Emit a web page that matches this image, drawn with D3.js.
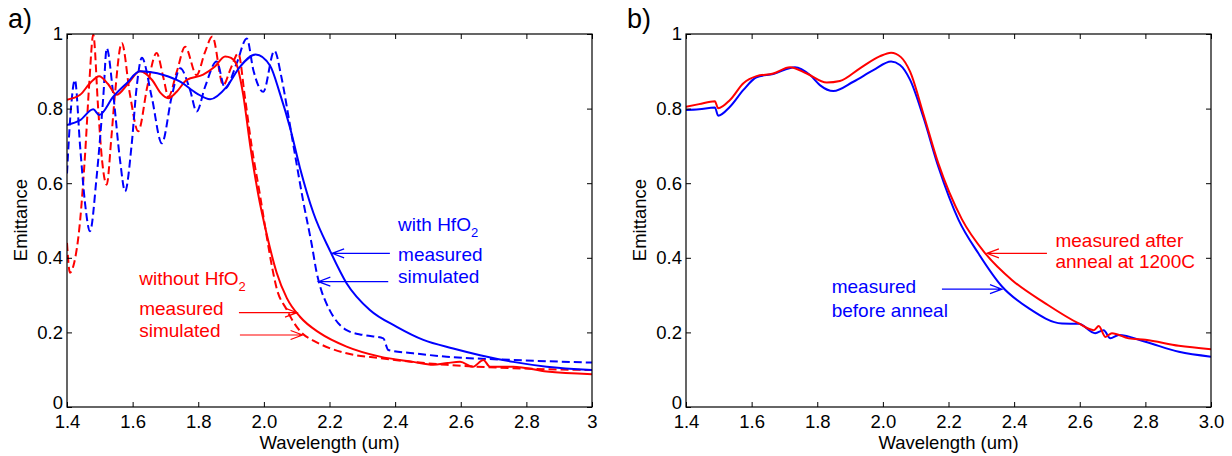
<!DOCTYPE html>
<html>
<head>
<meta charset="utf-8">
<script src="https://cdn.jsdelivr.net/npm/d3@7"></script>
<style>
	body { margin: 0; background: #fff; }
	svg text { font-family: "Liberation Sans", Arial, Helvetica, sans-serif; }
</style>
</head>
<body>
<svg id="chart" width="1232" height="456"></svg>
<script>
// wavelength (um) / emittance pairs

// panel a) without HfO2
var aRedMeasured = [[1.40,0.824],[1.44,0.837],[1.47,0.868],[1.498,0.887],[1.525,0.866],[1.551,0.837],[1.585,0.866],[1.622,0.900],[1.66,0.876],[1.685,0.842],[1.709,0.828],[1.735,0.846],[1.765,0.877],[1.815,0.891],[1.85,0.912],[1.882,0.940],[1.90,0.936],[1.917,0.918],[1.937,0.837],[1.958,0.703],[1.983,0.569],[2.009,0.462],[2.039,0.360],[2.07,0.292],[2.11,0.242],[2.171,0.198],[2.252,0.162],[2.354,0.135],[2.455,0.121],[2.516,0.113],[2.56,0.118],[2.598,0.121],[2.637,0.108],[2.669,0.126],[2.689,0.108],[2.76,0.108],[2.862,0.095],[3.0,0.088]];
var aRedSimulated = [[1.40,0.44],[1.409,0.36],[1.42,0.38],[1.44,0.50],[1.455,0.676],[1.468,0.87],[1.480,0.998],[1.495,0.80],[1.507,0.66],[1.521,0.596],[1.535,0.72],[1.546,0.837],[1.567,0.976],[1.592,0.837],[1.617,0.739],[1.645,0.86],[1.673,0.949],[1.694,0.882],[1.709,0.832],[1.735,0.90],[1.760,0.966],[1.795,0.890],[1.820,0.95],[1.843,0.993],[1.876,0.863],[1.90,0.91],[1.922,0.948],[1.942,0.832],[1.963,0.698],[1.988,0.569],[2.01,0.45],[2.025,0.375],[2.039,0.318],[2.069,0.262],[2.09,0.228],[2.12,0.195],[2.151,0.178],[2.20,0.158],[2.252,0.144],[2.354,0.131],[2.557,0.113],[2.76,0.104],[3.0,0.099]];

// panel a) with HfO2
var aBlueMeasured = [[1.40,0.756],[1.44,0.769],[1.48,0.798],[1.498,0.783],[1.541,0.832],[1.582,0.868],[1.622,0.900],[1.694,0.890],[1.745,0.872],[1.795,0.841],[1.836,0.825],[1.887,0.859],[1.927,0.912],[1.975,0.945],[2.019,0.915],[2.049,0.840],[2.08,0.748],[2.11,0.641],[2.151,0.520],[2.202,0.418],[2.252,0.332],[2.323,0.260],[2.405,0.215],[2.486,0.180],[2.577,0.157],[2.659,0.139],[2.76,0.121],[2.862,0.108],[3.0,0.099]];
var aBlueSimulated = [[1.40,0.626],[1.412,0.80],[1.424,0.877],[1.440,0.698],[1.455,0.546],[1.470,0.471],[1.490,0.614],[1.511,0.837],[1.521,0.962],[1.541,0.837],[1.562,0.659],[1.577,0.578],[1.597,0.703],[1.612,0.855],[1.628,0.936],[1.658,0.832],[1.689,0.707],[1.719,0.832],[1.745,0.908],[1.775,0.850],[1.795,0.792],[1.821,0.859],[1.856,0.926],[1.882,0.854],[1.917,0.921],[1.948,0.988],[1.968,0.903],[1.998,0.845],[2.032,0.955],[2.054,0.882],[2.074,0.784],[2.095,0.676],[2.12,0.551],[2.146,0.435],[2.161,0.360],[2.176,0.310],[2.186,0.287],[2.212,0.242],[2.252,0.206],[2.303,0.193],[2.364,0.184],[2.379,0.153],[2.455,0.144],[2.557,0.135],[2.76,0.126],[3.0,0.119]];

// panel b) anneal
var bBefore = [[1.40,0.796],[1.44,0.798],[1.488,0.803],[1.498,0.781],[1.534,0.805],[1.575,0.850],[1.615,0.884],[1.666,0.893],[1.732,0.911],[1.778,0.890],[1.808,0.863],[1.849,0.847],[1.910,0.872],[1.971,0.903],[2.025,0.926],[2.052,0.917],[2.083,0.877],[2.123,0.778],[2.169,0.644],[2.231,0.501],[2.291,0.412],[2.363,0.323],[2.444,0.265],[2.546,0.224],[2.597,0.223],[2.647,0.198],[2.673,0.206],[2.693,0.184],[2.719,0.193],[2.80,0.175],[2.902,0.148],[3.0,0.135]];
var bAfter = [[1.40,0.805],[1.44,0.812],[1.488,0.820],[1.498,0.801],[1.534,0.823],[1.575,0.868],[1.615,0.887],[1.666,0.894],[1.717,0.911],[1.768,0.894],[1.829,0.870],[1.869,0.874],[1.930,0.908],[1.99,0.940],[2.025,0.950],[2.055,0.938],[2.083,0.899],[2.123,0.787],[2.169,0.653],[2.241,0.503],[2.312,0.412],[2.394,0.340],[2.495,0.278],[2.597,0.224],[2.643,0.206],[2.658,0.217],[2.678,0.188],[2.698,0.198],[2.749,0.184],[2.80,0.180],[2.902,0.164],[3.0,0.155]];

var xTicks = [1.4, 1.6, 1.8, 2.0, 2.2, 2.4, 2.6, 2.8, 3.0];
var aXTickLabels = ['1.4','1.6','1.8','2.0','2.2','2.4','2.6','2.8','3'];
var bXTickLabels = ['1.4','1.6','1.8','2.0','2.2','2.4','2.6','2.8','3.0'];
var yTicks = [0, 0.2, 0.4, 0.6, 0.8, 1];
var yTickLabels = ['0','0.2','0.4','0.6','0.8','1'];

// annotations: text lines [wavelength, emittance, text, subscript]
var aBlueNotes = [[2.409,0.472,'with HfO','2'],[2.409,0.391,'measured',''],[2.409,0.332,'simulated','']];
var aRedNotes = [[1.620,0.327,'without HfO','2'],[1.620,0.247,'measured',''],[1.620,0.188,'simulated','']];
var bRedNotes = [[2.526,0.430,'measured after',''],[2.526,0.372,'anneal at 1200C','']];
var bBlueNotes = [[1.844,0.305,'measured',''],[1.844,0.242,'before anneal','']];
// arrows: [tail wl, tail E, tip wl, tip E]
var aBlueArrows = [[2.384,0.412,2.208,0.412],[2.379,0.336,2.166,0.336]];
var aRedArrows = [[1.924,0.253,2.101,0.253],[1.927,0.193,2.118,0.193]];
var bRedArrows = [[2.500,0.412,2.317,0.412]];
var bBlueArrows = [[2.180,0.316,2.363,0.316]];

var RED = '#ff0000';
var BLUE = '#0000ff';
var svg = d3.select('#chart');

function drawPanel(p){
	var x = d3.scaleLinear().domain([1.4, 3.0]).range([p.left, p.right]);
	var y = d3.scaleLinear().domain([0, 1]).range([407, 34]);

	var clipId = 'clip' + p.name;
	svg.append('clipPath').attr('id', clipId)
		.append('rect')
		.attr('x', p.left).attr('y', 34)
		.attr('width', p.right - p.left).attr('height', 373);

	var line = d3.line()
		.x(function(d){ return x(d[0]); })
		.y(function(d){ return y(d[1]); })
		.curve(d3.curveMonotoneX);

	var g = svg.append('g').attr('clip-path', 'url(#' + clipId + ')');
	for(let s of p.series){
		g.append('path')
			.datum(s.data)
			.attr('d', line)
			.attr('fill', 'none')
			.attr('stroke', s.color)
			.attr('stroke-width', 2)
			.attr('stroke-dasharray', s.dashed ? '8,4' : null);
	}

	// axes with inward ticks on all four sides
	var bottom = svg.append('g').attr('transform', 'translate(0,407)')
		.call(d3.axisBottom(x).tickValues(xTicks)
			.tickFormat(function(d, i){ return p.xLabels[i]; })
			.tickSizeInner(-5).tickSizeOuter(0).tickPadding(8));
	var left = svg.append('g').attr('transform', 'translate(' + p.left + ',0)')
		.call(d3.axisLeft(y).tickValues(yTicks)
			.tickFormat(function(d, i){ return yTickLabels[i]; })
			.tickSizeInner(-5).tickSizeOuter(0).tickPadding(4));
	var top = svg.append('g').attr('transform', 'translate(0,34)')
		.call(d3.axisTop(x).tickValues(xTicks).tickFormat('')
			.tickSizeInner(-5).tickSizeOuter(0));
	var right = svg.append('g').attr('transform', 'translate(' + p.right + ',0)')
		.call(d3.axisRight(y).tickValues(yTicks).tickFormat('')
			.tickSizeInner(-5).tickSizeOuter(0));

	for(let ax of [bottom, left, top, right]){
		ax.select('.domain').remove();
		ax.selectAll('line').attr('stroke', '#000');
		ax.selectAll('text')
			.attr('fill', '#000')
			.style('font-family', '"Liberation Sans", Arial, sans-serif')
			.style('font-size', '18.5px');
	}
	// the "0" label sits a little high so it clears the first x label
	left.selectAll('.tick').filter(function(d){ return d == 0; })
		.select('text').attr('dy', '0.1em');

	svg.append('rect')
		.attr('x', p.left).attr('y', 34)
		.attr('width', p.right - p.left).attr('height', 373)
		.attr('fill', 'none')
		.attr('stroke', '#000')
		.attr('stroke-width', 1.2);

	// axis titles
	svg.append('text')
		.attr('x', (p.left + p.right) / 2).attr('y', 449)
		.attr('text-anchor', 'middle')
		.style('font-size', '18.5px')
		.text('Wavelength (um)');
	svg.append('text')
		.attr('transform', 'translate(' + (p.left - 40) + ',220) rotate(-90)')
		.attr('text-anchor', 'middle')
		.style('font-size', '18.5px')
		.text('Emittance');

	svg.append('text')
		.attr('x', p.left - 59).attr('y', 28)
		.style('font-size', '27px')
		.text(p.name + ')');

	// annotations
	for(let n of p.notes){
		for(let t of n.lines){
			var txt = svg.append('text')
				.attr('x', x(t[0])).attr('y', y(t[1]))
				.attr('fill', n.color)
				.style('font-size', '19px')
				.text(t[2]);
			if(t[3] != ''){
				txt.append('tspan')
					.attr('dy', 6)
					.style('font-size', '13px')
					.text(t[3]);
			}
		}
		for(let a of n.arrows){
			var x0 = x(a[0]), y0 = y(a[1]), x1 = x(a[2]), y1 = y(a[3]);
			var ang = Math.atan2(y1 - y0, x1 - x0);
			var len = 12, wing = 4.5;
			var bx = x1 - len * Math.cos(ang), by = y1 - len * Math.sin(ang);
			var px = -Math.sin(ang) * wing, py = Math.cos(ang) * wing;
			svg.append('path')
				.attr('d', 'M' + x0 + ',' + y0 + 'L' + x1 + ',' + y1 +
					'M' + (bx + px) + ',' + (by + py) + 'L' + x1 + ',' + y1 + 'L' + (bx - px) + ',' + (by - py))
				.attr('fill', 'none')
				.attr('stroke', n.color)
				.attr('stroke-width', 1.2);
		}
	}
}

drawPanel({
	name: 'a', left: 67, right: 592, xLabels: aXTickLabels,
	series: [
		{data: aRedSimulated, color: RED, dashed: true},
		{data: aBlueSimulated, color: BLUE, dashed: true},
		{data: aRedMeasured, color: RED, dashed: false},
		{data: aBlueMeasured, color: BLUE, dashed: false}
	],
	notes: [
		{color: BLUE, lines: aBlueNotes, arrows: aBlueArrows},
		{color: RED, lines: aRedNotes, arrows: aRedArrows}
	]
});

drawPanel({
	name: 'b', left: 686, right: 1211, xLabels: bXTickLabels,
	series: [
		{data: bBefore, color: BLUE, dashed: false},
		{data: bAfter, color: RED, dashed: false}
	],
	notes: [
		{color: RED, lines: bRedNotes, arrows: bRedArrows},
		{color: BLUE, lines: bBlueNotes, arrows: bBlueArrows}
	]
});
</script>
</body>
</html>
